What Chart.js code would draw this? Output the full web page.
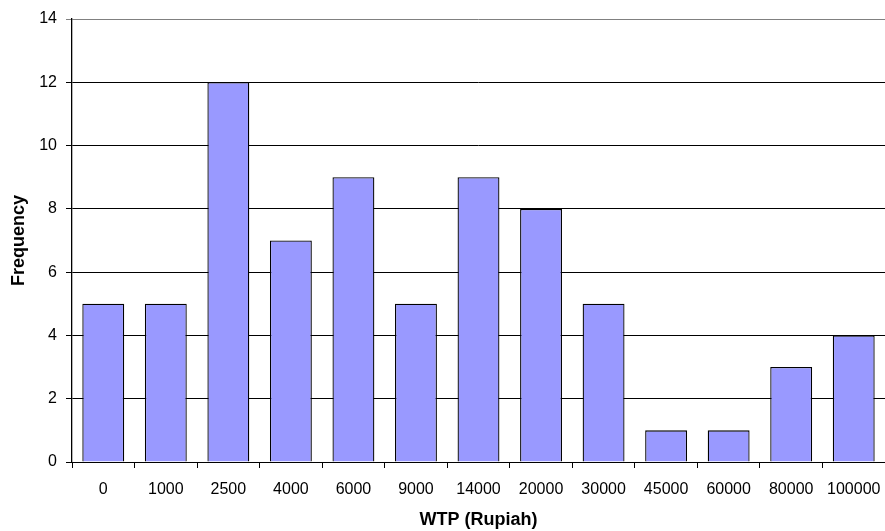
<!DOCTYPE html>
<html>
<head>
<meta charset="utf-8">
<script src="https://cdn.jsdelivr.net/npm/chart.js@4/dist/chart.umd.min.js"></script>
<style>
  html, body { margin: 0; padding: 0; background: #fff; }
  #wrap { width: 885px; height: 531px; position: relative; }
</style>
</head>
<body>
<div id="wrap"><canvas id="chart"></canvas></div>
<script>
const wtpLabels = ["0", "1000", "2500", "4000", "6000", "9000", "14000", "20000", "30000", "45000", "60000", "80000", "100000"];
const frequency = [5, 5, 12, 7, 9, 5, 9, 8, 5, 1, 1, 3, 4];
const yTicks = [0, 2, 4, 6, 8, 10, 12, 14];

const FONT = "'Liberation Sans', Arial, sans-serif";
const ctx = document.getElementById("chart").getContext("2d");

new Chart(ctx, {
  type: "bar",
  data: {
    labels: wtpLabels,
    datasets: [{
      label: "Frequency",
      data: frequency,
      backgroundColor: "#9999ff",
      borderColor: "#000000",
      borderWidth: 1.3,
      categoryPercentage: 1,
      barPercentage: 0.67
    }]
  },
  options: {
    responsive: true,
    maintainAspectRatio: false,
    animation: false,
    layout: { padding: { top: 19, right: 0, left: 0, bottom: 0 } },
    plugins: {
      legend: { display: false },
      tooltip: { enabled: false }
    },
    scales: {
      x: {
        offset: true,
        grid: {
          offset: true,
          drawOnChartArea: false,
          drawTicks: true,
          tickLength: 6,
          color: "#000",
          lineWidth: 1
        },
        border: { color: "#000", width: 1 },
        ticks: {
          color: "#000",
          font: { family: FONT, size: 16 },
          padding: 12,
          maxRotation: 0,
          autoSkip: false
        },
        title: {
          display: true,
          text: "WTP (Rupiah)",
          color: "#000",
          font: { family: FONT, size: 18, weight: "bold" },
          padding: { top: 8, bottom: 0 }
        },
        afterFit: s => {
          s.height = 69;
          // let the last category run to the right edge
          s.paddingLeft = 0;
          s.paddingRight = 0;
        }
      },
      y: {
        min: 0,
        max: 14,
        afterBuildTicks: s => { s.ticks = yTicks.map(v => ({ value: v })); },
        grid: {
          color: c => (c.tick && c.tick.value === 14 ? "#808080" : "#000"),
          lineWidth: 1,
          tickLength: 6
        },
        border: { color: "#000", width: 1.3 },
        ticks: {
          color: "#000",
          font: { family: FONT, size: 16 },
          padding: 9
        },
        title: {
          display: true,
          text: "Frequency",
          color: "#000",
          font: { family: FONT, size: 18, weight: "bold" },
          padding: { top: 8, bottom: 0 }
        },
        afterFit: s => { s.width = 72; }
      }
    }
  }
});
</script>
</body>
</html>
